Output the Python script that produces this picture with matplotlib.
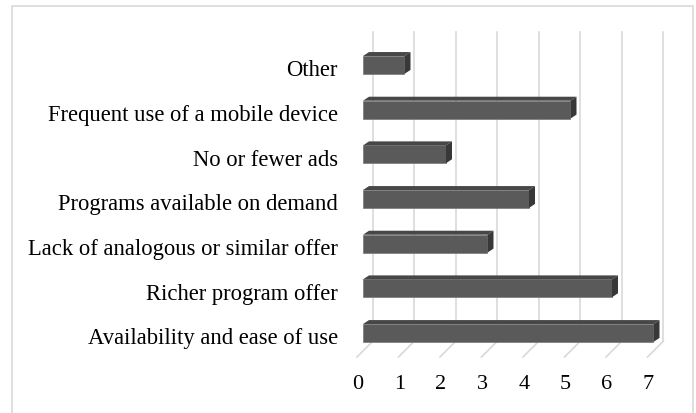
import matplotlib.pyplot as plt
from matplotlib.patches import Polygon, Rectangle

categories = ["Availability and ease of use", "Richer program offer",
              "Lack of analogous or similar offer", "Programs available on demand",
              "No or fewer ads", "Frequent use of a mobile device", "Other"]
values = [7, 6, 3, 4, 2, 5, 1]
ticks = [0, 1, 2, 3, 4, 5, 6, 7]

plt.rcParams['font.family'] = ['Liberation Serif', 'DejaVu Serif']

fig = plt.figure(figsize=(6.96, 4.14), dpi=100)
ax = fig.add_axes([0, 0, 1, 1])
# pixel mapping: x=0 -> 363px, 41.5 px/unit ; row spacing 44.67 px
ux, uy = 41.5, 44.67
ax.set_xlim(-363 / ux, (696 - 363) / ux)
ax.set_ylim(-80 / uy, (414 - 80) / uy)
ax.axis('off')

# figure border
fig.patches.append(Rectangle((12 / 696, -0.05), 681 / 696, 1.05 - 7 / 414,
                             transform=fig.transFigure, fill=False,
                             edgecolor='#d9d9d9', lw=1.2))

# floor / gridlines (back plane offset)
fx, fy = -6 / ux, -0.537   # front floor
bx, by = 10 / ux, -0.179   # back floor
top = 6.74
for t in ticks:
    ax.plot([t + fx, t + bx], [fy, by], color='#d9d9d9', lw=1.2, zorder=1)
    ax.plot([t + bx, t + bx], [by, top], color='#d9d9d9', lw=1.2, zorder=1)
    ax.text(t + fx + 1 / ux, -1.12, str(t), ha='center', va='center', fontsize=16)

# 3D bars
h = 0.4
dx, dy = 6 / ux, 4 / uy
for i, v in enumerate(values):
    y0, y1 = i - h / 2, i + h / 2
    ax.barh(i, v, height=h, color='#5a5a5a', edgecolor='#777777', lw=0.5, zorder=3)
    ax.add_patch(Polygon([(0, y1), (v, y1), (v + dx, y1 + dy), (dx, y1 + dy)],
                         closed=True, facecolor='#474747', edgecolor='none', zorder=3))
    ax.add_patch(Polygon([(v, y0), (v + dx, y0 + dy), (v + dx, y1 + dy), (v, y1)],
                         closed=True, facecolor='#383838', edgecolor='none', zorder=3))
    ax.text(-25 / ux, i - 5 / uy, categories[i], ha='right', va='center', fontsize=16.3)

fig.savefig('out.png', dpi=100)
